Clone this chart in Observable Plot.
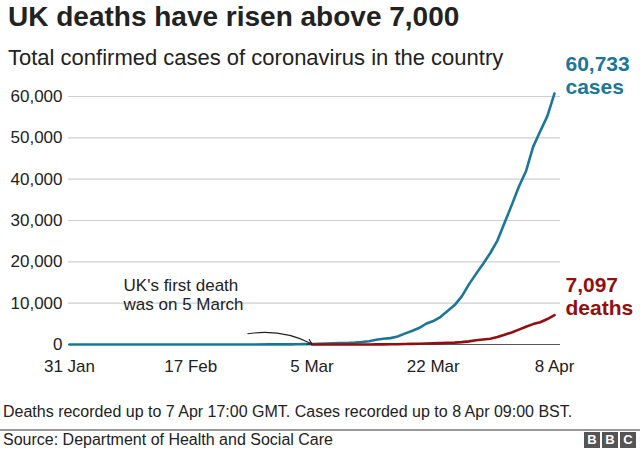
<!DOCTYPE html>
<html>
<head>
<meta charset="utf-8">
<script src="https://cdn.jsdelivr.net/npm/d3@7"></script>
<script src="https://cdn.jsdelivr.net/npm/@observablehq/plot@0.6"></script>
<style>
  body { margin: 0; background: #fff; font-family: "Liberation Sans", Arial, sans-serif; }
  #wrap { position: relative; width: 640px; height: 450px; overflow: hidden; }
  #chart { position: absolute; left: 0; top: 0; }
  .title { position: absolute; left: 8px; top: 1px; font-size: 28px; font-weight: bold; color: #222; white-space: nowrap; }
  .subtitle { position: absolute; left: 8px; top: 45px; font-size: 22px; color: #222; white-space: nowrap; }
  .note { position: absolute; left: 3px; top: 403px; font-size: 16px; color: #222; white-space: nowrap; }
  .rule { position: absolute; left: 0; top: 429px; width: 640px; height: 2px; background: #999; }
  .source { position: absolute; left: 3px; top: 431px; font-size: 16px; color: #222; white-space: nowrap; }
  .bbc { position: absolute; left: 584px; top: 432px; display: flex; gap: 2px; }
  .bbc span { display: inline-block; width: 16px; height: 16px; background: #555; color: #fff; font-weight: bold; font-size: 13px; line-height: 16px; text-align: center; }
</style>
</head>
<body>
<div id="wrap">
  <div id="chart"></div>
  <div class="title">UK deaths have risen above 7,000</div>
  <div class="subtitle">Total confirmed cases of coronavirus in the country</div>
  <div class="note">Deaths recorded up to 7 Apr 17:00 GMT. Cases recorded up to 8 Apr 09:00 BST.</div>
  <div class="rule"></div>
  <div class="source">Source: Department of Health and Social Care</div>
  <div class="bbc"><span>B</span><span>B</span><span>C</span></div>
</div>
<script>
// ---- data ----
const caseDates = [
  "2020-01-31","2020-02-06","2020-02-10","2020-02-11","2020-02-26","2020-02-28","2020-02-29",
  "2020-03-01","2020-03-02","2020-03-03","2020-03-04","2020-03-05","2020-03-06","2020-03-07",
  "2020-03-08","2020-03-09","2020-03-10","2020-03-11","2020-03-12","2020-03-13","2020-03-14",
  "2020-03-15","2020-03-16","2020-03-17","2020-03-18","2020-03-19","2020-03-20","2020-03-21",
  "2020-03-22","2020-03-23","2020-03-24","2020-03-25","2020-03-26","2020-03-27","2020-03-28",
  "2020-03-29","2020-03-30","2020-03-31","2020-04-01","2020-04-02","2020-04-03","2020-04-04",
  "2020-04-05","2020-04-06","2020-04-07","2020-04-08"
];
const caseValues = [
  2, 3, 8, 9, 13, 20, 23,
  36, 40, 51, 85, 115, 163, 206,
  273, 321, 373, 456, 590, 798, 1140,
  1372, 1543, 1950, 2626, 3269, 3983, 5018,
  5683, 6650, 8077, 9529, 11658, 14543, 17089,
  19522, 22141, 25150, 29474, 33718, 38168, 41903,
  47806, 51608, 55242, 60733
];
const deathDates = [
  "2020-03-05","2020-03-06","2020-03-07","2020-03-08","2020-03-09","2020-03-10","2020-03-11",
  "2020-03-12","2020-03-13","2020-03-14","2020-03-15","2020-03-16","2020-03-17","2020-03-18",
  "2020-03-19","2020-03-20","2020-03-21","2020-03-22","2020-03-23","2020-03-24","2020-03-25",
  "2020-03-26","2020-03-27","2020-03-28","2020-03-29","2020-03-30","2020-03-31","2020-04-01",
  "2020-04-02","2020-04-03","2020-04-04","2020-04-05","2020-04-06","2020-04-07","2020-04-08"
];
const deathValues = [
  1, 2, 2, 3, 4, 6, 8,
  8, 10, 21, 35, 55, 71, 104,
  144, 177, 233, 281, 335, 422, 465,
  578, 759, 1019, 1228, 1408, 1789, 2352,
  2921, 3605, 4313, 4934, 5373, 6159, 7097
];
const xTickDates = ["2020-01-31","2020-02-17","2020-03-05","2020-03-22","2020-04-08"];
const xTickLabels = ["31 Jan","17 Feb","5 Mar","22 Mar","8 Apr"];
const yTicks = [0, 10000, 20000, 30000, 40000, 50000, 60000];
const annotationText = "UK's first death\nwas on 5 March";

// ---- build ----
const blue = "#1b7798";
const red = "#930f0f";
const cases = caseDates.map((d, i) => ({date: new Date(d), value: caseValues[i]}));
const deaths = deathDates.map((d, i) => ({date: new Date(d), value: deathValues[i]}));
const xt = xTickDates.map(d => new Date(d));
const labelOf = new Map(xt.map((d, i) => [+d, xTickLabels[i]]));
const lastCase = cases[cases.length - 1];
const lastDeath = deaths[deaths.length - 1];

const chart = Plot.plot({
  width: 640,
  height: 390,
  marginLeft: 68,
  marginRight: 80,
  marginTop: 96,
  marginBottom: 46,
  style: {fontFamily: "Liberation Sans, Arial, sans-serif", color: "#222", background: "transparent", overflow: "visible"},
  x: {type: "utc", domain: [xt[0], xt[xt.length - 1]], range: [69, 554]},
  y: {domain: [0, 60000]},
  marks: [
    Plot.gridY(yTicks, {stroke: "#cfcfcf", strokeOpacity: 1, strokeWidth: 1.2}),
    Plot.axisY(yTicks, {tickSize: 0, tickPadding: 6, fontSize: 17, tickFormat: d => d3.format(",")(d), label: null}),
    Plot.axisX(xt, {tickSize: 0, tickPadding: 15, fontSize: 17, tickFormat: d => labelOf.get(+d), label: null}),
    Plot.ruleY([0], {stroke: "#555", strokeWidth: 1.2}),
    Plot.lineY(cases, {x: "date", y: "value", stroke: blue, strokeWidth: 2.6}),
    Plot.lineY(deaths, {x: "date", y: "value", stroke: red, strokeWidth: 2.6}),
    Plot.text([lastCase], {x: "date", y: "value", text: d => d3.format(",")(d.value) + "\ncases",
      textAnchor: "start", dx: 11, dy: -18, fill: blue, fontWeight: "bold", fontSize: 21, lineHeight: 1.1}),
    Plot.text([lastDeath], {x: "date", y: "value", text: d => d3.format(",")(d.value) + "\ndeaths",
      textAnchor: "start", dx: 11, dy: -19, fill: red, fontWeight: "bold", fontSize: 21, lineHeight: 1.1}),
    Plot.text([annotationText], {x: new Date("2020-02-08"), y: 14300, text: d => d, lineAnchor: "middle",
      textAnchor: "start", dx: -3, dy: 9, fontSize: 17, fill: "#222", lineHeight: 1.13}),
    Plot.arrow([0], {x1: new Date("2020-02-25"), y1: 2600, x2: new Date("2020-03-05"), y2: 150,
      bend: 18, stroke: "#222", strokeWidth: 1.1, headLength: 7})
  ]
});
document.getElementById("chart").appendChild(chart);
</script>
</body>
</html>
